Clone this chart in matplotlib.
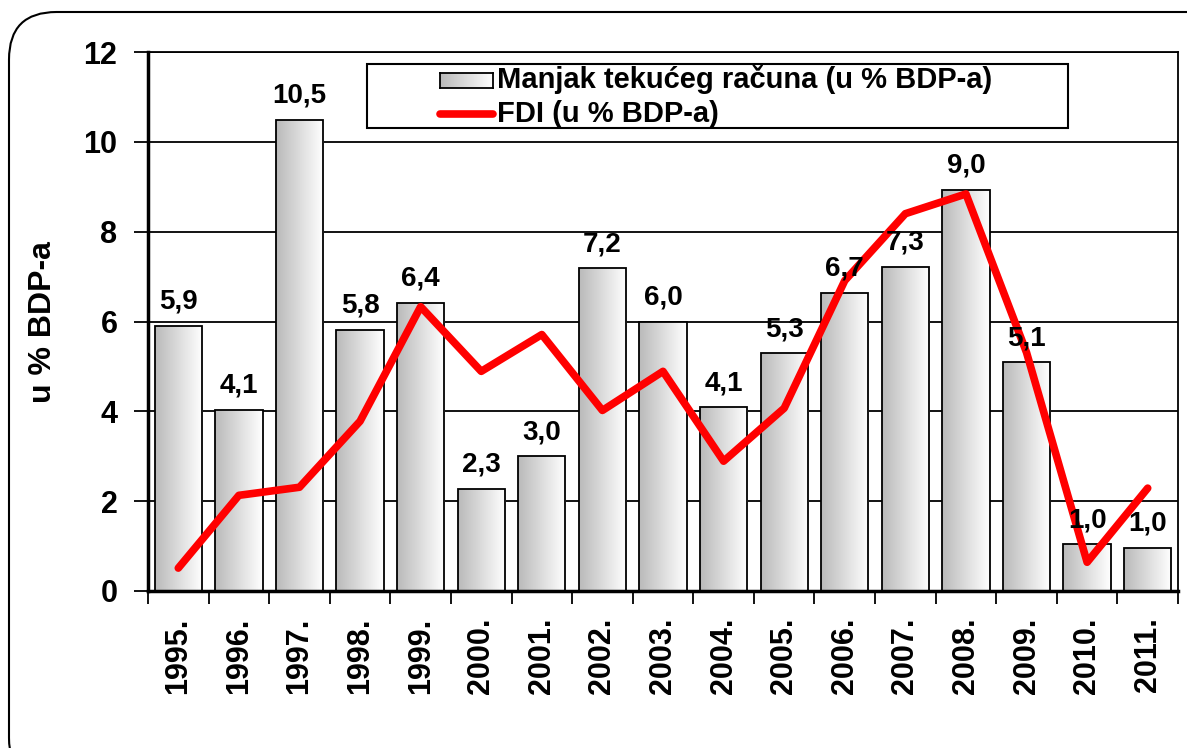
import numpy as np
import matplotlib
matplotlib.use("Agg")
import matplotlib.pyplot as plt
from matplotlib.patches import FancyBboxPatch, Rectangle
from matplotlib.lines import Line2D
from matplotlib.colors import LinearSegmentedColormap

years = ["1995.", "1996.", "1997.", "1998.", "1999.", "2000.", "2001.", "2002.", "2003.",
         "2004.", "2005.", "2006.", "2007.", "2008.", "2009.", "2010.", "2011."]
deficit = [5.91, 4.04, 10.49, 5.82, 6.42, 2.27, 3.0, 7.18, 6.0, 4.09, 5.29, 6.64, 7.22, 8.93, 5.09, 1.04, 0.96]
deficit_labels = ["5,9", "4,1", "10,5", "5,8", "6,4", "2,3", "3,0", "7,2", "6,0", "4,1", "5,3", "6,7",
                  "7,3", "9,0", "5,1", "1,0", "1,0"]
fdi = [0.51, 2.13, 2.31, 3.78, 6.33, 4.89, 5.71, 4.02, 4.89, 2.89, 4.07, 6.91, 8.40, 8.84, 5.31, 0.64, 2.29]
series_names = ["Manjak tekućeg računa (u % BDP-a)", "FDI (u % BDP-a)"]

plt.rcParams['font.family'] = ['Liberation Sans', 'DejaVu Sans']
plt.rcParams['font.weight'] = 'bold'

W, H = 1187, 748
RED = '#ff0000'
cmap = LinearSegmentedColormap.from_list('g', ['#bababa', '#ffffff'])
grad = np.linspace(0, 1, 64).reshape(1, -1)

def px(x, y):
    # pixel position (from top left) -> figure fraction
    return x / W, 1 - y / H

fig = plt.figure(figsize=(W / 100, H / 100), dpi=100)
ax = fig.add_axes([148 / W, 1 - 591 / H, (1178 - 148) / W, (591 - 52) / H])

# rounded frame round the whole chart
frame = FancyBboxPatch((9 / W, -0.05), 1.05, 1 - 12 / H + 0.05,
                       boxstyle="round,pad=0,rounding_size=0.04",
                       transform=fig.transFigure, fill=False, lw=1.5, ec='black',
                       mutation_aspect=W / H)
fig.patches.append(frame)

x = np.arange(len(years))
bars = ax.bar(x, deficit, width=0.78, color='none', edgecolor='black', lw=1.3, zorder=3)
for b in bars:
    bx, by = b.get_x(), b.get_y()
    im = ax.imshow(grad, cmap=cmap, aspect='auto', zorder=2,
                   extent=[bx, bx + b.get_width(), by, by + b.get_height()])
    im.set_clip_path(b)

for xi, v, lab in zip(x, deficit, deficit_labels):
    ax.text(xi, v + 0.25, lab, ha='center', va='bottom', fontsize=20, fontweight='bold', zorder=5)

ax.plot(x, fdi, color=RED, lw=5.5, solid_capstyle='round', solid_joinstyle='round', zorder=4)

ax.set_xlim(-0.5, len(years) - 0.5)
ax.set_ylim(0, 12)
ax.set_yticks(range(0, 13, 2))
ax.yaxis.grid(True, color='black', lw=1.3, zorder=1)
ax.set_axisbelow(True)
ax.set_xticks(x)
ax.set_xticklabels(years, rotation=90, fontsize=22, fontweight='bold')
ax.set_xticks(np.arange(-0.5, len(years), 1), minor=True)
ax.tick_params(axis='x', which='major', length=0, pad=19)
ax.tick_params(axis='x', which='minor', length=9, width=1.3, direction='out')
ax.tick_params(axis='y', length=10, width=1.3, direction='out', labelsize=22, pad=12)
for t in ax.get_yticklabels():
    t.set_fontweight('bold')
ax.set_ylabel('u % BDP-a', fontsize=23, fontweight='bold')
ax.yaxis.set_label_coords(58 / W, 1 - 322 / H, transform=fig.transFigure)

ax.spines['left'].set_linewidth(2.5)
ax.spines['bottom'].set_linewidth(2.5)
ax.spines['right'].set_linewidth(1.3)
ax.spines['top'].set_linewidth(1.3)

# legend box drawn by hand so it keeps the wide frame of the original
x0, y0 = px(367, 128)
x1, y1 = px(1068, 64)
fig.patches.append(Rectangle((x0, y0), x1 - x0, y1 - y0, transform=fig.transFigure,
                             fc='white', ec='black', lw=1.5, zorder=6))
hx0, hy0 = px(440, 88)
hx1, hy1 = px(493, 73)
lax = fig.add_axes([hx0, hy0, hx1 - hx0, hy1 - hy0], zorder=7)
lax.imshow(grad, cmap=cmap, aspect='auto', extent=[0, 1, 0, 1])
lax.set_xticks([])
lax.set_yticks([])
for s in lax.spines.values():
    s.set_linewidth(1.3)
lx0, ly = px(440, 114)
lx1, _ = px(493, 114)
fig.lines.append(Line2D([lx0, lx1], [ly, ly], transform=fig.transFigure, color=RED, lw=5.5,
                        solid_capstyle='round', zorder=8))
fig.text(*px(497, 79), series_names[0], fontsize=21, fontweight='bold', va='center', ha='left', zorder=8)
fig.text(*px(497, 114), series_names[1], fontsize=21, fontweight='bold', va='center', ha='left', zorder=8)

fig.savefig('out.png', dpi=100)
